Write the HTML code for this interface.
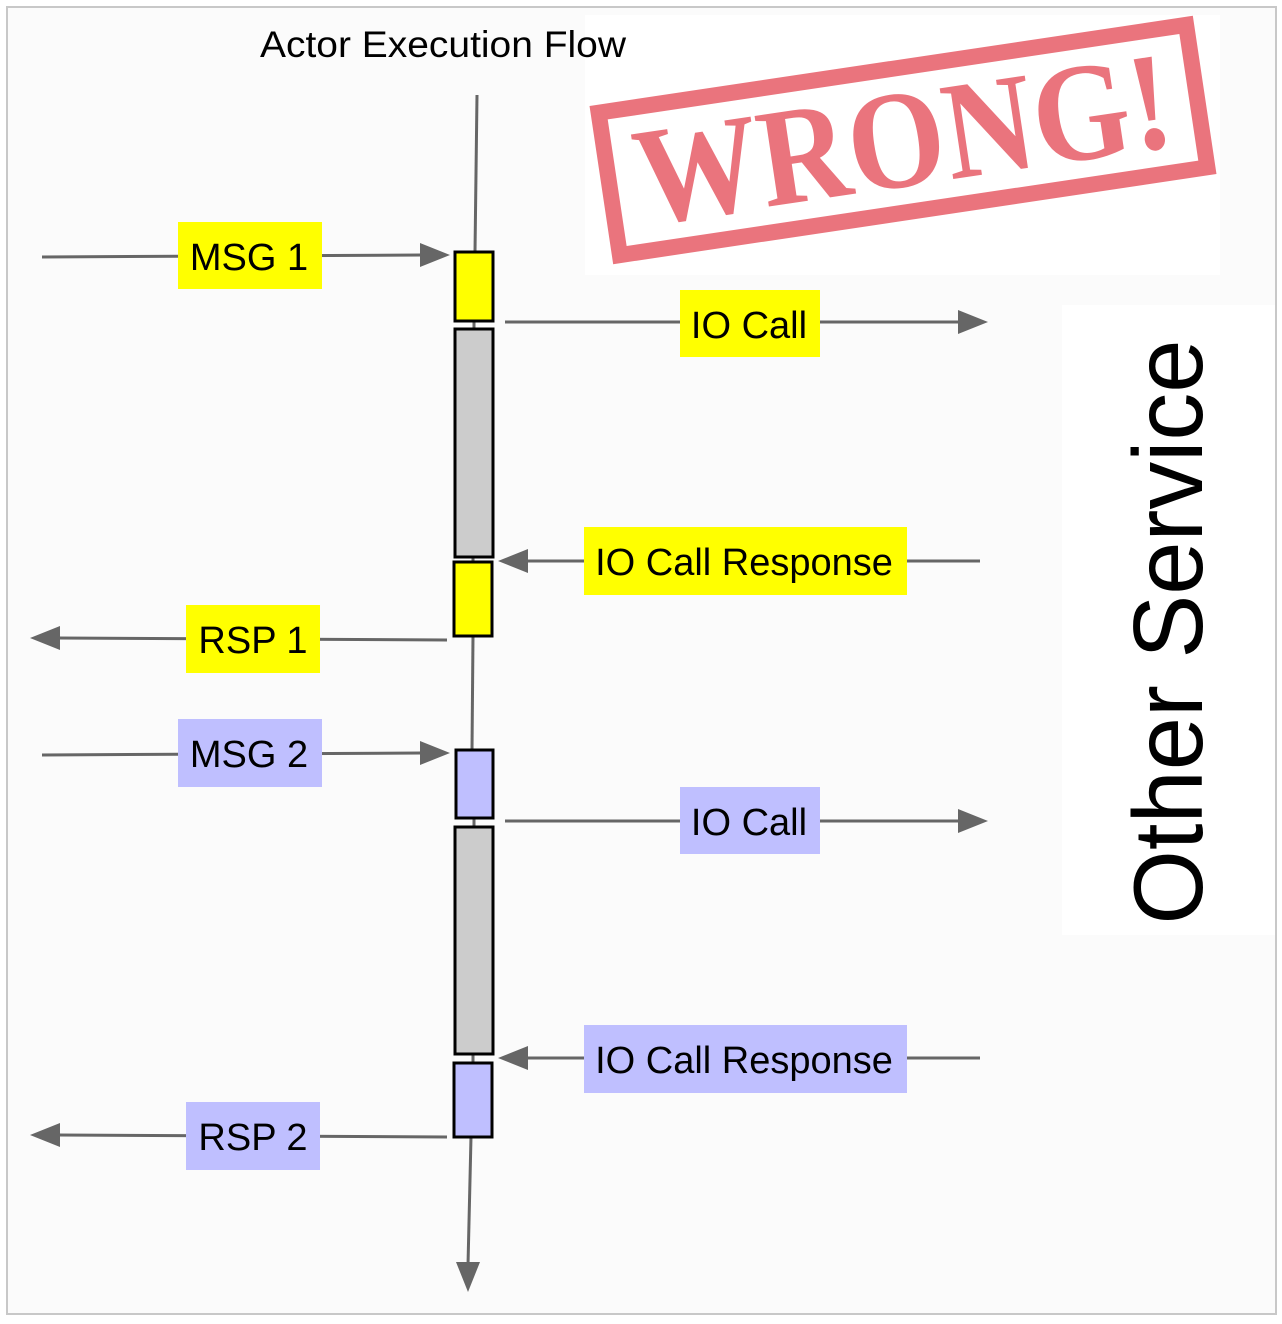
<!DOCTYPE html>
<html><head><meta charset="utf-8"><style>
html,body{margin:0;padding:0;background:#fff;}
svg{display:block;}
</style></head><body>
<svg width="1282" height="1324" viewBox="0 0 1282 1324" xmlns="http://www.w3.org/2000/svg" font-family="Liberation Sans, sans-serif">
<rect x="7" y="7" width="1269" height="1307" fill="#fbfbfb" stroke="#c8c8c8" stroke-width="2"/>
<rect x="585" y="15" width="635" height="260" fill="#ffffff"/>
<rect x="1062" y="305" width="213" height="630" fill="#ffffff"/>
<g stroke="#666" stroke-width="3" fill="none">
<line x1="477" y1="95" x2="475" y2="252"/>
<line x1="474" y1="321" x2="474" y2="329"/>
<line x1="473" y1="557" x2="473" y2="562"/>
<line x1="473" y1="636" x2="472" y2="750"/>
<line x1="474" y1="818" x2="474" y2="827"/>
<line x1="473" y1="1054" x2="473" y2="1063"/>
<line x1="471" y1="1137" x2="468" y2="1265"/>
<line x1="42" y1="257" x2="422" y2="255"/>
<line x1="505" y1="322" x2="960" y2="322"/>
<line x1="980" y1="561" x2="526" y2="561"/>
<line x1="447" y1="640" x2="58" y2="638"/>
<line x1="42" y1="755" x2="422" y2="753"/>
<line x1="505" y1="821" x2="960" y2="821"/>
<line x1="980" y1="1058" x2="526" y2="1058"/>
<line x1="447" y1="1137" x2="58" y2="1135"/>
</g>
<g fill="#666">
<polygon points="450,255 420,243 420,267"/>
<polygon points="988,322 958,310 958,334"/>
<polygon points="498,561 528,549 528,573"/>
<polygon points="30,638 60,626 60,650"/>
<polygon points="450,753 420,741 420,765"/>
<polygon points="988,821 958,809 958,833"/>
<polygon points="498,1058 528,1046 528,1070"/>
<polygon points="30,1135 60,1123 60,1147"/>
<polygon points="468,1292 456,1262 480,1262"/>
</g>
<g stroke="#000" stroke-width="3">
<rect x="455" y="252" width="38" height="69" fill="#ffff00"/>
<rect x="455" y="329" width="38" height="228" fill="#cccccc"/>
<rect x="454" y="562" width="38" height="74" fill="#ffff00"/>
<rect x="456" y="750" width="37" height="68" fill="#bfbfff"/>
<rect x="455" y="827" width="38" height="227" fill="#cccccc"/>
<rect x="454" y="1063" width="38" height="74" fill="#bfbfff"/>
</g>
<g>
<rect x="178" y="222" width="144" height="67" fill="#ffff00"/>
<rect x="680" y="290" width="140" height="67" fill="#ffff00"/>
<rect x="584" y="527" width="323" height="68" fill="#ffff00"/>
<rect x="186" y="605" width="134" height="68" fill="#ffff00"/>
<rect x="178" y="719" width="144" height="68" fill="#bfbfff"/>
<rect x="680" y="787" width="140" height="67" fill="#bfbfff"/>
<rect x="584" y="1025" width="323" height="68" fill="#bfbfff"/>
<rect x="186" y="1102" width="134" height="68" fill="#bfbfff"/>
</g>
<g font-size="38" fill="#000" text-anchor="middle">
<text x="443" y="57" font-size="37" textLength="366" lengthAdjust="spacingAndGlyphs">Actor Execution Flow</text>
<text x="249" y="270">MSG 1</text>
<text x="749" y="338">IO Call</text>
<text x="744" y="575">IO Call Response</text>
<text x="253" y="653">RSP 1</text>
<text x="249" y="767">MSG 2</text>
<text x="749" y="835">IO Call</text>
<text x="744" y="1073">IO Call Response</text>
<text x="253" y="1150">RSP 2</text>
</g>
<text x="0" y="0" font-size="98" fill="#000" text-anchor="middle" textLength="585" lengthAdjust="spacingAndGlyphs" transform="translate(1202,632) rotate(-90)">Other Service</text>
<g transform="translate(903,140) rotate(-8.5)" opacity="0.9">
<rect x="-297" y="-72" width="594" height="144" fill="none" stroke="#e8656f" stroke-width="16"/>
<text x="0" y="46" style="font-family:'Liberation Serif',serif;font-weight:bold" font-size="140" fill="#e8656f" text-anchor="middle" textLength="540" lengthAdjust="spacingAndGlyphs">WRONG!</text>
</g>
</svg>
</body></html>
